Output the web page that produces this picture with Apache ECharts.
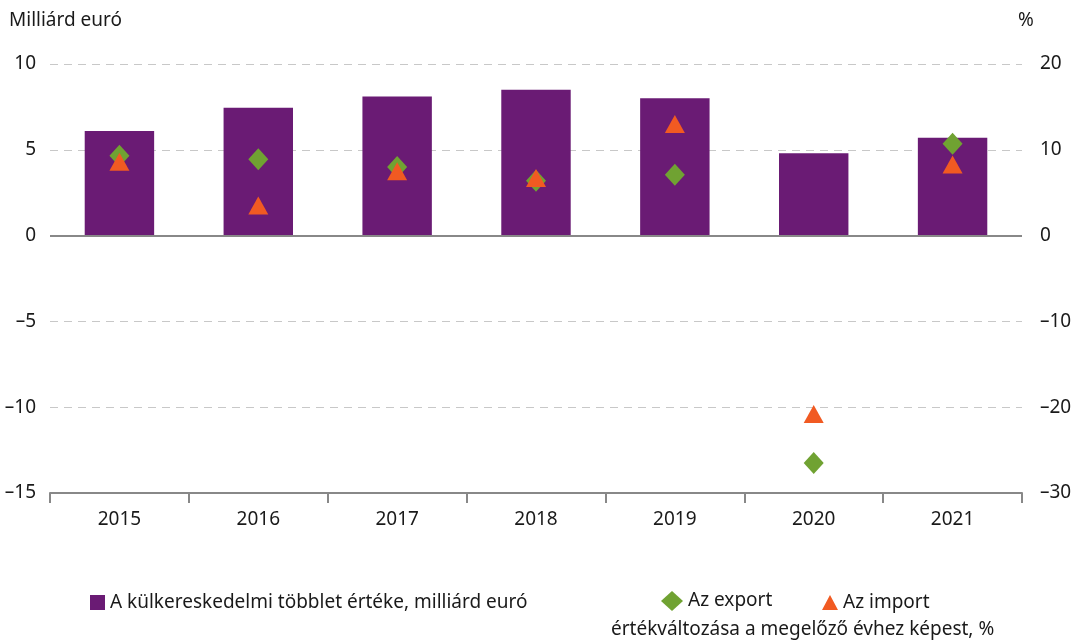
<!DOCTYPE html>
<html>
<head>
<meta charset="utf-8">
<script src="https://cdn.jsdelivr.net/npm/echarts@6/dist/echarts.min.js"></script>
<style>
	html, body { margin: 0; padding: 0; background: #fff; }
	#chart { width: 1075px; height: 642px; }
</style>
</head>
<body>
<div id="chart"></div>
<script>
// évek
var years = ['2015', '2016', '2017', '2018', '2019', '2020', '2021'];
// külkereskedelmi többlet, milliárd euró (bal tengely)
var surplus = [6.1, 7.45, 8.1, 8.5, 8.0, 4.8, 5.7];
// export értékváltozása, % (jobb tengely)
var exportChg = [9.3, 8.9, 8.0, 6.4, 7.1, -26.5, 10.7];
// import értékváltozása, % (jobb tengely)
var importChg = [8.6, 3.5, 7.5, 6.7, 13.0, -20.8, 8.3];

var fontName = '"Noto Sans", sans-serif';
var dash = function(v) { return String(v).replace('-', '–'); };
var legendText = { fontSize : 19, color : '#1a1a1a', fontFamily : fontName };

var myChart = echarts.init(document.getElementById('chart'));

var option = {
	animation : false,
	textStyle : { fontFamily : fontName },
	grid : { left : 50, right : 53, top : 64, bottom : 149 },
	graphic : [
		{ type : 'text', left : 9, top : 11, style : { text : 'Milliárd euró', font : '19px ' + fontName, fill : '#1a1a1a' } },
		{ type : 'text', left : 1018, top : 11, style : { text : '%', font : '19px ' + fontName, fill : '#1a1a1a' } },
		{ type : 'text', left : 611, top : 620, style : { text : 'értékváltozása a megelőző évhez képest, %', font : '19px ' + fontName, fill : '#1a1a1a' } }
	],
	legend : [
		{
			left : 90, top : 593, padding : 0, itemWidth : 15, itemHeight : 15,
			textStyle : legendText,
			data : [{ name : 'A külkereskedelmi többlet értéke, milliárd euró', icon : 'rect' }]
		},
		{
			left : 661, top : 591, padding : 0, itemWidth : 22, itemHeight : 20,
			textStyle : legendText,
			data : [{ name : 'Az export', icon : 'diamond' }]
		},
		{
			left : 822, top : 593, padding : 0, itemWidth : 16, itemHeight : 15,
			textStyle : legendText,
			data : [{ name : 'Az import', icon : 'triangle' }]
		}
	],
	xAxis : {
		type : 'category',
		data : years,
		boundaryGap : true,
		axisLine : { onZero : false, lineStyle : { color : '#888', width : 2 } },
		axisTick : { show : true, length : 10, lineStyle : { color : '#888', width : 2 } },
		axisLabel : { fontSize : 19, color : '#1a1a1a', margin : 17 }
	},
	yAxis : [
		{
			type : 'value', min : -15, max : 10, interval : 5,
			axisLine : { show : false }, axisTick : { show : false },
			axisLabel : { fontSize : 19, color : '#1a1a1a', margin : 14, formatter : dash },
			splitLine : { lineStyle : { color : '#c8c8c8', type : [8, 6], width : 1 } }
		},
		{
			type : 'value', min : -30, max : 20, interval : 10, position : 'right',
			axisLine : { show : false }, axisTick : { show : false },
			axisLabel : { fontSize : 19, color : '#1a1a1a', margin : 18, formatter : dash },
			splitLine : { show : false }
		}
	],
	series : [
		{
			name : 'A külkereskedelmi többlet értéke, milliárd euró',
			type : 'bar', yAxisIndex : 0, barWidth : '50%',
			itemStyle : { color : '#6a1b74' },
			data : surplus,
			markLine : {
				silent : true, symbol : 'none', label : { show : false },
				lineStyle : { color : '#888', width : 2, type : 'solid' },
				data : [{ yAxis : 0 }]
			}
		},
		{
			name : 'Az export',
			type : 'scatter', yAxisIndex : 1,
			symbol : 'diamond', symbolSize : [20, 22],
			itemStyle : { color : '#70a232', opacity : 1 },
			data : exportChg
		},
		{
			name : 'Az import',
			type : 'scatter', yAxisIndex : 1,
			symbol : 'triangle', symbolSize : [20, 18],
			itemStyle : { color : '#f15a22', opacity : 1 },
			data : importChg
		}
	]
};

myChart.setOption(option);
</script>
</body>
</html>
